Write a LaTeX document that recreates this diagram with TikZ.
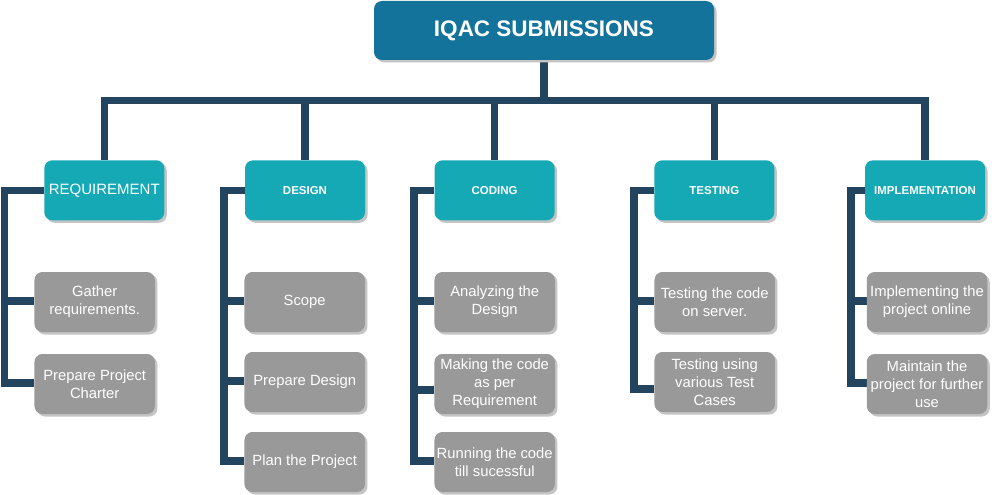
\documentclass[tikz,border=0pt]{standalone}
\usepackage{fontspec}
\setmainfont{Liberation Sans}
\usetikzlibrary{backgrounds,shadows}

\definecolor{titleblue}{HTML}{13739B}
\definecolor{phaseteal}{HTML}{14A9B4}
\definecolor{taskgray}{HTML}{999999}
\definecolor{linknavy}{HTML}{23445E}
\definecolor{shadowgray}{HTML}{C4C4C4}

\tikzset{
  boxbase/.style={rounded corners=8pt, text=white, align=center, inner sep=0pt,
    drop shadow={shadow xshift=2.5pt, shadow yshift=-2.5pt, fill=shadowgray, opacity=1}},
  titlebox/.style={boxbase, fill=titleblue, minimum width=340pt, minimum height=59pt,
    font=\fontsize{22.5}{26}\selectfont\bfseries},
  phasebox/.style={boxbase, fill=phaseteal, minimum width=120pt, minimum height=60pt,
    font=\fontsize{11.5}{14}\selectfont\bfseries},
  taskbox/.style={boxbase, fill=taskgray, minimum width=120.5pt, minimum height=60pt,
    font=\fontsize{14.8}{18}\selectfont},
  link/.style={draw=linknavy, line width=7.5pt, line join=miter},
}

\begin{document}
\begin{tikzpicture}[x=1pt, y=-1pt]
\useasboundingbox (0,0) rectangle (997,495);

% root
\node[titlebox] (root) at (544,30.5) {\raisebox{-1pt}{IQAC SUBMISSIONS}};

% phases
\node[phasebox, font=\fontsize{15}{18}\selectfont] (req) at (104.3,190.3) {\raisebox{-1pt}{REQUIREMENT}};
\node[phasebox] (des) at (305,190.3) {\raisebox{-1pt}{DESIGN}};
\node[phasebox] (cod) at (494.6,190.3) {\raisebox{-1pt}{CODING}};
\node[phasebox] (tst) at (714.3,190.3) {\raisebox{-1pt}{TESTING}};
\node[phasebox] (imp) at (925,190.3) {\raisebox{-1pt}{IMPLEMENTATION}};

% requirement tasks
\node[taskbox] (req1) at (94.7,302) {Gather\\requirements.};
\node[taskbox] (req2) at (94.7,384) {Prepare Project\\Charter};

% design tasks
\node[taskbox] (des1) at (304.7,302) {Scope};
\node[taskbox] (des2) at (304.7,382) {Prepare Design};
\node[taskbox] (des3) at (304.7,462) {Plan the Project};

% coding tasks
\node[taskbox] (cod1) at (494.7,302) {Analyzing the\\Design};
\node[taskbox] (cod2) at (494.7,384) {Making the code\\as per\\Requirement};
\node[taskbox] (cod3) at (494.7,462) {Running the code\\till sucessful};

% testing tasks
\node[taskbox] (tst1) at (714.7,302) {Testing the code\\on server.};
\node[taskbox] (tst2) at (714.7,382) {Testing using\\various Test\\Cases};

% implementation tasks
\node[taskbox] (imp1) at (927,302) {Implementing the\\project online};
\node[taskbox] (imp2) at (927,384) {Maintain the\\project for further\\use};

% rails
\coordinate (bar) at (0,100.5);
\coordinate (reqrail) at (4.7,0);
\coordinate (desrail) at (224,0);
\coordinate (codrail) at (414,0);
\coordinate (tstrail) at (634,0);
\coordinate (imprail) at (851,0);

\begin{pgfonlayer}{background}
  % root to phases
  \draw[link] (root.south) -- (root.south |- bar);
  \draw[link] (req.north) |- (imp.north |- bar) -- (imp.north);
  \draw[link] (des.north) -- (des.north |- bar);
  \draw[link] (cod.north) -- (cod.north |- bar);
  \draw[link] (tst.north) -- (tst.north |- bar);

  % requirement
  \draw[link] (req.west) -| ([yshift=1pt]reqrail |- req2.west) -- ([yshift=1pt]req2.west);
  \draw[link] ([yshift=1pt]reqrail |- req1.west) -- ([yshift=1pt]req1.west);

  % design
  \draw[link] (des.west) -| ([yshift=1pt]desrail |- des3.west) -- ([yshift=1pt]des3.west);
  \draw[link] ([yshift=1pt]desrail |- des1.west) -- ([yshift=1pt]des1.west);
  \draw[link] ([yshift=1pt]desrail |- des2.west) -- ([yshift=1pt]des2.west);

  % coding
  \draw[link] (cod.west) -| ([yshift=1pt]codrail |- cod3.west) -- ([yshift=1pt]cod3.west);
  \draw[link] ([yshift=1pt]codrail |- cod1.west) -- ([yshift=1pt]cod1.west);
  \draw[link] ([yshift=-6pt]codrail |- cod2.west) -- ([yshift=-6pt]cod2.west);

  % testing
  \draw[link] (tst.west) -| ([yshift=-7pt]tstrail |- tst2.west) -- ([yshift=-7pt]tst2.west);
  \draw[link] ([yshift=1pt]tstrail |- tst1.west) -- ([yshift=1pt]tst1.west);

  % implementation
  \draw[link] (imp.west) -| ([yshift=1pt]imprail |- imp2.west) -- ([yshift=1pt]imp2.west);
  \draw[link] ([yshift=1pt]imprail |- imp1.west) -- ([yshift=1pt]imp1.west);
\end{pgfonlayer}
\end{tikzpicture}
\end{document}
